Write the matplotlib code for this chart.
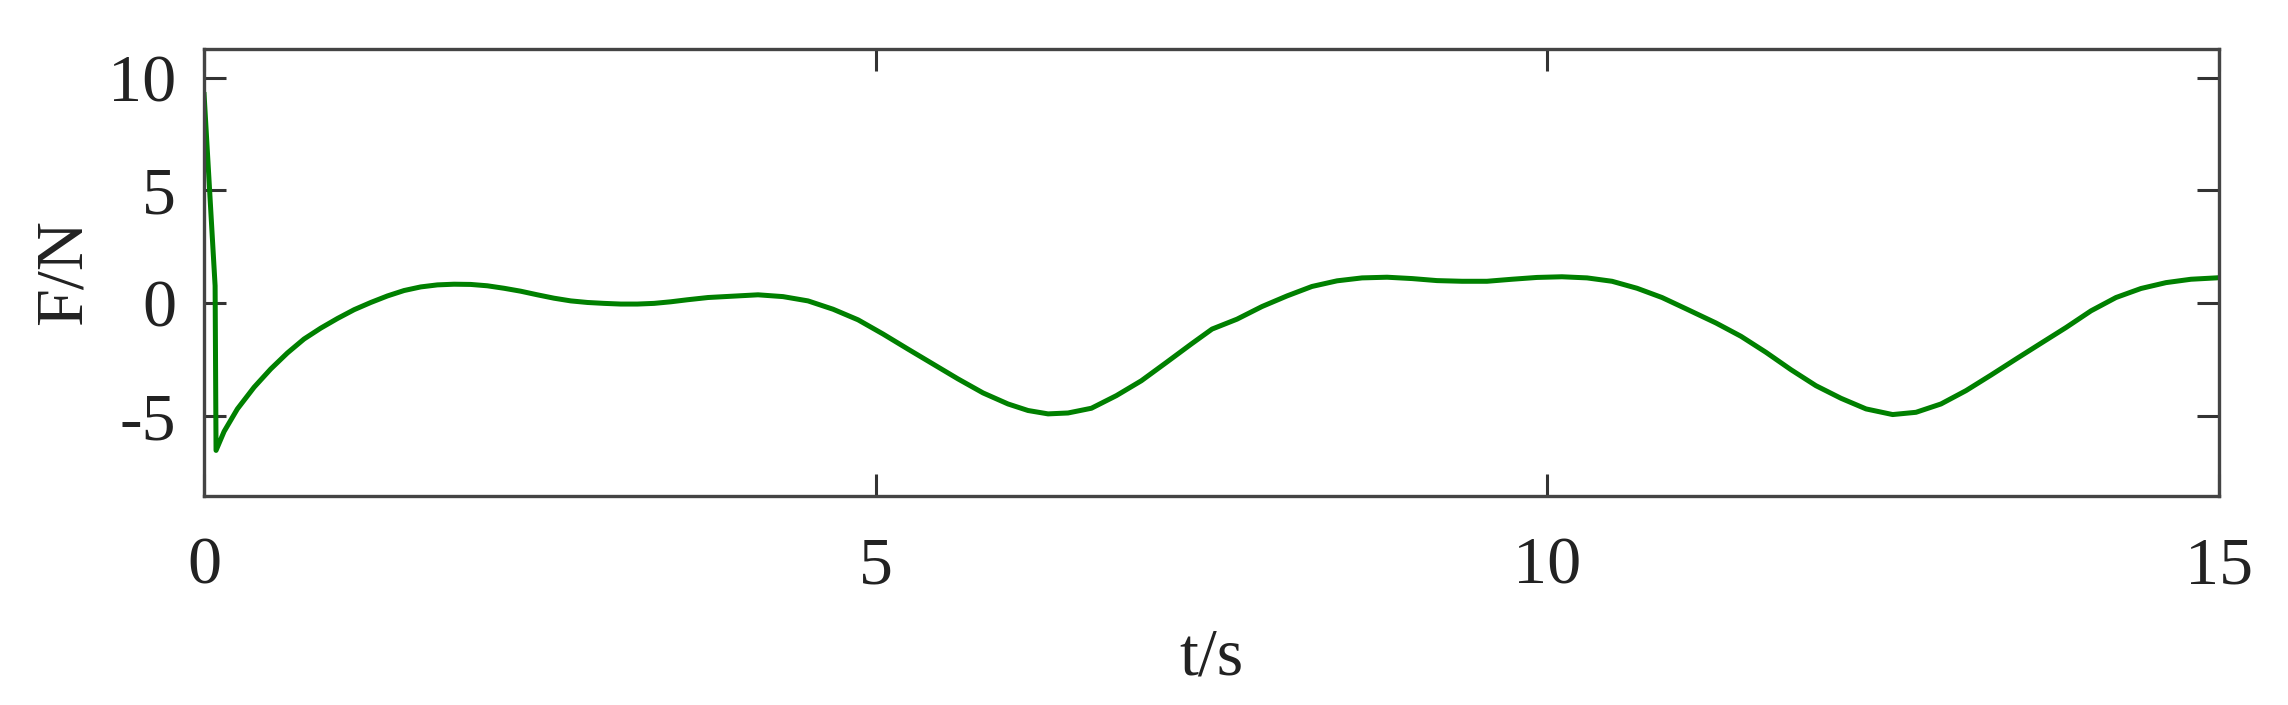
import matplotlib.pyplot as plt

# values
t = [0.0, 0.082, 0.089, 0.149, 0.248, 0.372, 0.496, 0.62, 0.744, 0.868, 0.993,
     1.117, 1.241, 1.365, 1.489, 1.613, 1.737, 1.861, 1.985, 2.109, 2.233,
     2.357, 2.481, 2.605, 2.73, 2.854, 2.978, 3.102, 3.226, 3.35, 3.474, 3.598,
     3.752, 3.938, 4.124, 4.31, 4.496, 4.683, 4.869, 5.055, 5.241, 5.427,
     5.613, 5.799, 5.985, 6.134, 6.283, 6.432, 6.606, 6.792, 6.978, 7.164,
     7.35, 7.504, 7.69, 7.876, 8.062, 8.248, 8.435, 8.621, 8.807, 8.993,
     9.179, 9.365, 9.551, 9.737, 9.923, 10.109, 10.296, 10.482, 10.668,
     10.854, 11.04, 11.256, 11.442, 11.628, 11.814, 12.0, 12.187, 12.373,
     12.571, 12.745, 12.931, 13.117, 13.303, 13.489, 13.675, 13.862, 14.048,
     14.234, 14.42, 14.606, 14.792, 14.978, 15.0]
F = [9.25, 0.77, -6.53, -5.69, -4.69, -3.73, -2.92, -2.21, -1.59, -1.11, -0.68,
     -0.29, 0.03, 0.32, 0.56, 0.72, 0.81, 0.84, 0.83, 0.77, 0.66,
     0.53, 0.37, 0.22, 0.10, 0.03, -0.01, -0.04, -0.04, -0.01, 0.06, 0.15,
     0.25, 0.31, 0.37, 0.29, 0.10, -0.27, -0.74, -1.37, -2.04, -2.70,
     -3.36, -3.98, -4.47, -4.76, -4.91, -4.87, -4.66, -4.10, -3.44, -2.63,
     -1.81, -1.15, -0.71, -0.15, 0.32, 0.74, 0.99, 1.12, 1.15, 1.09,
     1.00, 0.97, 0.97, 1.06, 1.14, 1.17, 1.12, 0.97, 0.66,
     0.25, -0.27, -0.88, -1.47, -2.18, -2.95, -3.66, -4.22, -4.69,
     -4.94, -4.84, -4.47, -3.88, -3.19, -2.48, -1.78, -1.08, -0.34,
     0.25, 0.65, 0.91, 1.06, 1.12, 1.13]

xticks = [0, 5, 10, 15]
yticks = [-5, 0, 5, 10]

plt.rcParams['font.family'] = ['Liberation Serif', 'DejaVu Serif']
plt.rcParams['axes.unicode_minus'] = False

fig = plt.figure(figsize=(22.88, 7.05), dpi=100)
ax = fig.add_axes([0.0892, 0.2965, 0.8806, 0.634])
ax.plot(t, F, color='#008000', linewidth=3.6)

ax.set_xlim(0, 15)
ax.set_ylim(-8.55, 11.27)
ax.set_xticks(xticks)
ax.set_yticks(yticks)
ax.tick_params(direction='in', length=16, width=2.2, colors='#333333',
               labelcolor='#222222', labelsize=49,
               top=True, right=True)
ax.tick_params(axis='x', pad=29)
ax.tick_params(axis='y', pad=20)
for s in ax.spines.values():
    s.set_color('#444444')
    s.set_linewidth(2.4)

ax.set_xlabel('t/s', fontsize=49, color='#222222', labelpad=22)
ax.set_ylabel('F/N', fontsize=49, color='#222222', labelpad=10)

plt.savefig('out.png', dpi=100)
